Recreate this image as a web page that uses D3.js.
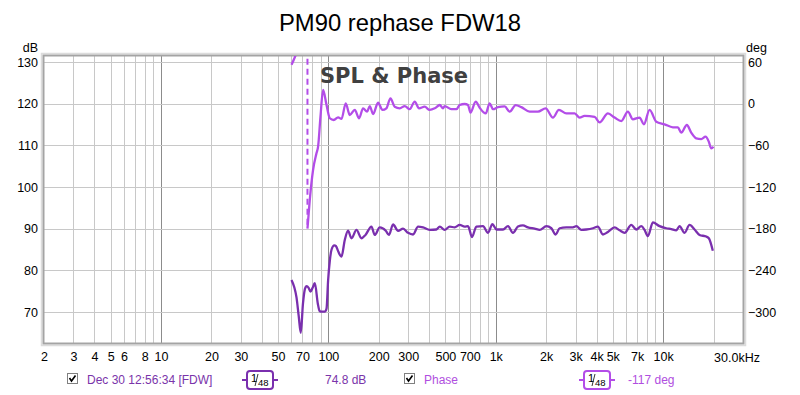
<!DOCTYPE html>
<html><head><meta charset="utf-8">
<script src="https://cdn.jsdelivr.net/npm/d3@7"></script>
<style>
body{margin:0;background:#fff;}
svg{display:block;font-family:"Liberation Sans",Arial,sans-serif;}
</style>
</head><body>
<svg id="c" width="800" height="395"></svg>
<script>
// ---- data ----
const titleText = "PM90 rephase FDW18";
const splFreq = [60.2,62.5,64.5,66.5,68.4,70.5,72.5,74.0,76.2,78.2,80.5,83,86.5,88.5,90.1,95.2,97.5,99.6,102,104.5,108.5,111,114.6,119.8,125.3,131.1,137.4,147.2,157.7,166.6,180.8,189.2,202.8,220.2,230,243.5,260.9,279.5,299.3,320.6,343.5,367.9,403,442,463,495,531,568,609,652,683,721,766,839,899,955,1009,1105,1183,1267,1357,1454,1557,1708,1829,2006,2148,2279,2407,2640,2891,3029,3244,3476,3805,4076,4367,4678,5129,5495,5887,6454,6910,7404,7746,8108,8683,9522,10440,11184,11976,12532,13424,14380,15404,16500,18092,18748,19808];
const splDb = [77.7,76,73.5,69,65,72,75.6,76.2,75.8,74.9,75.8,76.9,72,70.3,70.1,70.1,70.8,77.5,82.3,85,86,85.8,84.5,83.3,87.3,89.5,87.7,89.7,87.7,88.5,90.5,88.5,90.3,89.5,88.5,91,89.5,90,89,88.6,90.5,90.3,89.7,89.8,90.5,89.7,90.5,90.3,90.9,90.5,90.6,88,90.5,90.6,89,91.1,89.8,89.8,90.6,89,90.5,90.8,90.3,90,89.7,90.6,90.1,88.6,90.1,90.3,90.3,90.6,89.7,89.8,90.1,90.5,88.6,89.2,90.3,89.6,89,90.9,89.8,90.6,89.7,88.2,91.5,90.6,90.1,89.9,89.6,90.6,89,90.9,89.8,88.5,88.1,87.7,84.7];
const phaseFreq = [60.2,62.3,64.5,68,72,75,75,77.4,81,84.9,86.8,89.7,93,97.5,102,107.7,114.3,119.8,127,134.2,143.8,152.6,161.2,170.3,176.7,185,198,210.5,222,235,249,267,286,306,328,348,376,403,432,463,484,495,543,582,609,652,683,706,759,802,871,920,963,1031,1131,1211,1315,1422,1594,1787,1986,2196,2384,2640,2959,3170,3395,3896,4172,4678,5129,5625,6159,6596,7232,7672,8300,9098,10200,11430,12242,12830,13856,14722,15766,16892,17918,18748,19380,20000];
const phaseDeg = [56,64,74,110,150,180,-180,-139,-95.5,-71.5,-62,-18.7,19.7,-2,-21,-23.5,-19.6,-22,0.5,-16.3,-9,-21,-6.7,-11.5,-3.4,-15,1.4,-9,-6.7,7.7,-4.4,-6.7,-3.4,-8,3,-6.7,-4.4,-9,-6.7,-1.9,-6.7,-3.4,-8,-8,-2,-0.5,-2,-13,3,-6,-14,0.5,-8,-5,-4,-11.5,-2,-5,-11.5,-11.5,-6.7,-20,-9,-14,-14,-20,-17.5,-19,-27,-14,-20,-25,-11.5,-22.5,-20,-29.7,-9,-26,-29.7,-34,-34,-41.8,-30.7,-41.8,-50,-51,-47.6,-54.8,-64.3,-62];
const xTickValues = [2,3,4,5,6,8,10,20,30,50,70,100,200,300,500,700,1000,2000,3000,4000,5000,7000,10000];
const xTickLabels = ["2","3","4","5","6","8","10","20","30","50","70","100","200","300","500","700","1k","2k","3k","4k","5k","7k","10k"];
const xEndLabel = "30.0kHz";
const dbTicks = [70,80,90,100,110,120,130];
const degTicks = [60,0,-60,-120,-180,-240,-300];
const legendItems = [
  {name:"Dec 30 12:56:34 [FDW]", smooth:"48", value:"74.8 dB"},
  {name:"Phase", smooth:"48", value:"-117 deg"}
];

// ---- layout ----
const L = 44, R = 743, T = 56, B = 343;
const splColor = "#7a2fae", phaseColor = "#b34de8";
const svg = d3.select("#c");

const x = d3.scaleLog().domain([2, 30000]).range([L, R]);
const yL = d3.scaleLinear().domain([62.56, 131.44]).range([B, T]);
const yR = d3.scaleLinear().domain([(62.56-120)*6, (131.44-120)*6]).range([B, T]);

svg.append("rect").attr("width",800).attr("height",395).attr("fill","#fff");

// title
svg.append("text").attr("x",400).attr("y",31).attr("text-anchor","middle")
  .attr("font-size",23.8).attr("fill","#000").text(titleText);

// grid
const g = svg.append("g");
const minor = x.ticks().filter(v => v > 2 && v < 30000);
g.selectAll("line.v").data(minor).join("line")
  .attr("x1", d => Math.round(x(d))+0.5).attr("x2", d => Math.round(x(d))+0.5)
  .attr("y1", T).attr("y2", B)
  .attr("stroke", d => [10,100,1000,10000].includes(d) ? "#8c8c8c" : "#c8c8c8")
  .attr("stroke-width", 1);
g.selectAll("line.h").data(dbTicks).join("line")
  .attr("x1", L).attr("x2", R)
  .attr("y1", d => Math.round(yL(d))+0.5).attr("y2", d => Math.round(yL(d))+0.5)
  .attr("stroke", "#c8c8c8");

// frame
svg.append("rect").attr("x",L-2.5).attr("y",T-2.5).attr("width",R-L+5).attr("height",B-T+5)
  .attr("fill","none").attr("stroke","#dcdcdc").attr("stroke-width",1.5);
svg.append("rect").attr("x",L-0.5).attr("y",T-0.5).attr("width",R-L+1).attr("height",B-T+1)
  .attr("fill","none").attr("stroke","#a4a4a4").attr("stroke-width",2);

// axes
const axL = svg.append("g").attr("transform",`translate(${L-4},0)`)
  .call(d3.axisLeft(yL).tickValues(dbTicks).tickSize(0).tickPadding(2));
const axR = svg.append("g").attr("transform",`translate(${R+3},0)`)
  .call(d3.axisRight(yR).tickValues(degTicks).tickSize(0).tickPadding(2));
const axB = svg.append("g").attr("transform",`translate(0,${B+4})`)
  .call(d3.axisBottom(x).tickValues(xTickValues).tickFormat((d,i)=>xTickLabels[i]).tickSize(0).tickPadding(5));
[axL,axR,axB].forEach(a => {
  a.select(".domain").remove();
  a.selectAll("text").attr("font-size",12.5).attr("fill","#000")
    .attr("font-family","'Liberation Sans',Arial,sans-serif");
});
svg.append("text").attr("x",x(30000)-6).attr("y",B+4+5+9.5).attr("text-anchor","middle")
  .attr("font-size",12.5).text(xEndLabel);
svg.append("text").attr("x",38).attr("y",52).attr("text-anchor","end").attr("font-size",12.5).text("dB");
svg.append("text").attr("x",746).attr("y",52).attr("font-size",12.5).text("deg");

// plot
svg.append("clipPath").attr("id","clip").append("rect")
  .attr("x",L).attr("y",T).attr("width",R-L).attr("height",B-T);
const plot = svg.append("g").attr("clip-path","url(#clip)");

const spl = splFreq.map((f,i)=>[f, splDb[i]]);
const line = d3.line().curve(d3.curveMonotoneX);
plot.append("path")
  .attr("d", line(spl.map(d=>[x(d[0]), yL(d[1])])))
  .attr("fill","none").attr("stroke",splColor).attr("stroke-width",2.3)
  .attr("stroke-linejoin","round");

// phase: split at wraps
const ph = phaseFreq.map((f,i)=>[f, phaseDeg[i]]);
const segs = [[ph[0]]]; const wraps = [];
for (let i=1;i<ph.length;i++){
  if (Math.abs(ph[i][1]-ph[i-1][1]) > 180) { wraps.push([ph[i-1], ph[i]]); segs.push([ph[i]]); }
  else segs[segs.length-1].push(ph[i]);
}
segs.forEach(s => plot.append("path")
  .attr("d", line(s.map(d=>[x(d[0]), yR(d[1])])))
  .attr("fill","none").attr("stroke",phaseColor).attr("stroke-width",2.3)
  .attr("stroke-linejoin","round"));
wraps.forEach(w => plot.append("line")
  .attr("x1",x(w[0][0])).attr("x2",x(w[1][0]))
  .attr("y1",yR(w[0][1])).attr("y2",yR(w[1][1]))
  .attr("stroke",phaseColor).attr("stroke-width",2).attr("stroke-dasharray","6,4"));

// "SPL & Phase" label
svg.append("text").attr("x",320).attr("y",83).attr("font-family","'DejaVu Sans',Verdana,sans-serif")
  .attr("font-weight","bold").attr("font-size",21).attr("fill","#404040").text("SPL & Phase");

// legend
const legY = 380;
function checkbox(cx){
  const cb = svg.append("g").attr("transform",`translate(${cx},${legY-7})`);
  cb.append("rect").attr("x",0.5).attr("y",0.5).attr("width",10).attr("height",10)
    .attr("fill","#fff").attr("stroke","#808080");
  cb.append("path").attr("d","M2.5,5 L4.5,8 L8.5,2.5").attr("fill","none")
    .attr("stroke","#000").attr("stroke-width",1.6);
}
function smoothBox(cx, color, den){
  const gg = svg.append("g").attr("transform",`translate(${cx},${legY})`);
  gg.append("line").attr("x1",-18).attr("x2",18).attr("y1",0).attr("y2",0)
    .attr("stroke",color).attr("stroke-width",2);
  gg.append("rect").attr("x",-13).attr("y",-9).attr("width",26).attr("height",18).attr("rx",3)
    .attr("fill","#fff").attr("stroke",color).attr("stroke-width",2);
  gg.append("text").attr("x",-9).attr("y",2).attr("font-size",11).text("1");
  gg.append("line").attr("x1",-2).attr("x2",-5).attr("y1",-6).attr("y2",6).attr("stroke","#000").attr("stroke-width",0.8);
  gg.append("text").attr("x",-2).attr("y",6).attr("font-size",9.5).text(den);
}
const legCols = [
  {cb:67, name:87, box:260, val:325, color:"#7a34aa", box2:splColor},
  {cb:404, name:424, box:597, val:628, color:"#b04ee0", box2:phaseColor}
];
legendItems.forEach((it,i)=>{
  const c = legCols[i];
  checkbox(c.cb);
  svg.append("text").attr("x",c.name).attr("y",legY+4).attr("font-size",12).attr("fill",c.color).text(it.name);
  smoothBox(c.box, c.box2, it.smooth);
  svg.append("text").attr("x",c.val).attr("y",legY+4).attr("font-size",12).attr("fill",c.color).text(it.value);
});
</script>
</body></html>
